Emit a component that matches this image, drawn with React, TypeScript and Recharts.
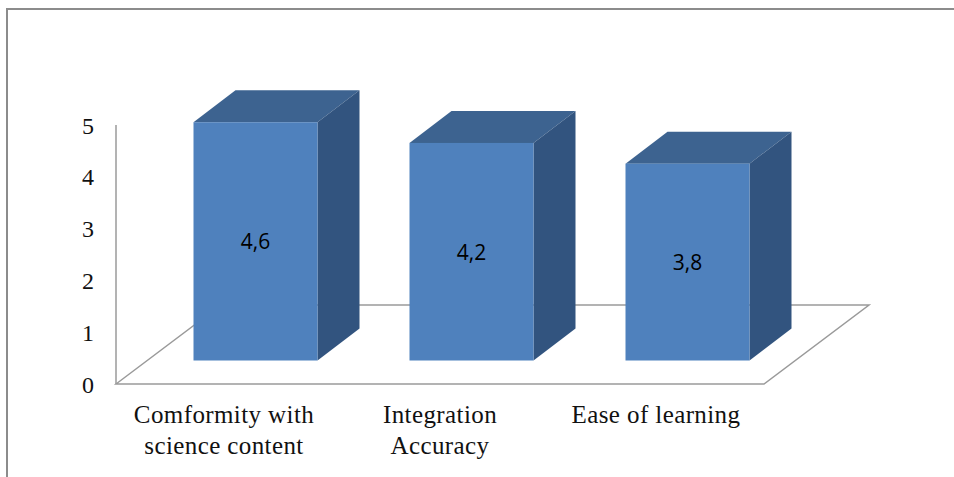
import React from 'react';
import * as R from 'recharts';
import { BarChart, Bar, XAxis, YAxis } from 'recharts';

// chart data
const categories = ['Comformity with\nscience content', 'Integration\nAccuracy', 'Ease of learning'];
const scores = [4.6, 4.2, 3.8];
const yTicks = [0, 1, 2, 3, 4, 5];

const data = categories.map((name, i) => ({ name, value: scores[i] }));

// 3d look
const FLOOR_DX = 105;
const FLOOR_DY = 79;
const BAR_DX = 42;
const BAR_DY = 32;
const SHIFT_X = (FLOOR_DX - BAR_DX) / 2;
const SHIFT_Y = (FLOOR_DY - BAR_DY) / 2;

const FRONT = '#4F81BD';
const TOP = '#3D6390';
const SIDE = '#32547F';
const GRID = '#9a9a9a';

const W = 954;
const H = 477;
const MARGIN = { top: 125, right: 190, bottom: 63, left: 0 };
const Y_AXIS_W = 116;

const Box3D = (props: any) => {
  const { x, y, width, height, value } = props;
  const fx = x + SHIFT_X;
  const fy = y - SHIFT_Y;
  const v = Array.isArray(value) ? value[1] : value;
  return (
    <g>
      <polygon
        points={`${fx},${fy} ${fx + BAR_DX},${fy - BAR_DY} ${fx + width + BAR_DX},${fy - BAR_DY} ${fx + width},${fy}`}
        fill={TOP}
      />
      <polygon
        points={`${fx + width},${fy} ${fx + width + BAR_DX},${fy - BAR_DY} ${fx + width + BAR_DX},${fy + height - BAR_DY} ${fx + width},${fy + height}`}
        fill={SIDE}
      />
      <rect x={fx} y={fy} width={width} height={height} fill={FRONT} />
      <text
        x={fx + width / 2}
        y={fy + height / 2}
        textAnchor="middle"
        dominantBaseline="central"
        fontFamily="'Open Sans', 'Liberation Sans', sans-serif"
        fontSize={21}
        fill="#000"
      >
        {String(v).replace('.', ',')}
      </text>
    </g>
  );
};

const Floor = () => {
  const usePlotArea = (R as any).usePlotArea;
  const area = usePlotArea
    ? usePlotArea()
    : { x: MARGIN.left + Y_AXIS_W, y: MARGIN.top, width: W - MARGIN.left - Y_AXIS_W - MARGIN.right, height: H - MARGIN.top - MARGIN.bottom - 30 };
  if (!area) return null;
  const l = area.x;
  const r = area.x + area.width;
  const b = area.y + area.height;
  return (
    <polygon
      points={`${l},${b} ${l + FLOOR_DX},${b - FLOOR_DY} ${r + FLOOR_DX},${b - FLOOR_DY} ${r},${b}`}
      fill="none"
      stroke={GRID}
      strokeWidth={1.5}
    />
  );
};

const CategoryTick = (props: any) => {
  const { x, y, payload } = props;
  const lines = String(payload.value).split('\n');
  return (
    <text
      x={x}
      y={y}
      textAnchor="middle"
      fontFamily="'Liberation Serif', 'Times New Roman', serif"
      fontSize={25}
      letterSpacing={0.4}
      fill="#111"
    >
      {lines.map((line, i) => (
        <tspan key={i} x={x} dy={31}>
          {line}
        </tspan>
      ))}
    </text>
  );
};

export default function App() {
  return (
    <div style={{ position: 'absolute', left: 0, top: 0, width: W, height: H, background: '#fff', overflow: 'hidden' }}>
      <div
        style={{
          position: 'absolute',
          left: 6,
          top: 8,
          width: W,
          height: H,
          borderTop: '2px solid #8c8c8c',
          borderLeft: '2px solid #8c8c8c',
        }}
      />
      <div style={{ position: 'absolute', left: 0, top: 0 }}>
        <BarChart width={W} height={H} data={data} margin={MARGIN}>
          <Floor />
          <XAxis dataKey="name" axisLine={false} tickLine={false} tick={<CategoryTick />} interval={0} />
          <YAxis
            width={Y_AXIS_W}
            domain={[0, 5]}
            ticks={yTicks}
            axisLine={{ stroke: GRID, strokeWidth: 1.5 }}
            tickLine={false}
            tickMargin={16}
            tick={{ fontFamily: "'Liberation Serif', 'Times New Roman', serif", fontSize: 24, fill: '#111' }}
          />
          <Bar dataKey="value" barSize={124} shape={<Box3D />} isAnimationActive={false} />
        </BarChart>
      </div>
    </div>
  );
}
